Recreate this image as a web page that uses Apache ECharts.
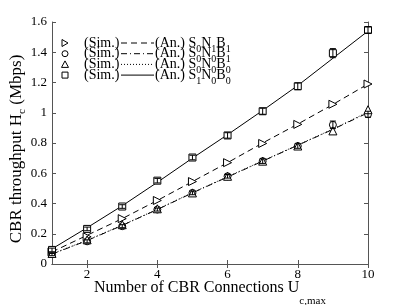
<!DOCTYPE html>
<html><head><meta charset="utf-8">
<script src="https://cdn.jsdelivr.net/npm/echarts@6/dist/echarts.min.js"></script>
<style>html,body{margin:0;padding:0;background:#fff}#c{width:407px;height:305px}</style>
</head><body><div id="c"></div>
<script>
const xValues = [1,2,3,4,5,6,7,8,9,10];
const xTicks = [2,4,6,8,10];
const yTicks = [0,0.2,0.4,0.6,0.8,1,1.2,1.4,1.6];
// simulation
const simS0N1B1 = [0.08,0.18,0.30,0.42,0.545,0.67,0.797,0.923,1.056,1.19];
const simS0N0B1 = [0.065,0.15,0.25,0.36,0.47,0.58,0.68,0.78,0.92,0.99];
const simS0N0B0 = [0.07,0.16,0.26,0.365,0.47,0.58,0.68,0.78,0.88,1.02];
const simS1N0B0 = [0.093,0.232,0.38,0.551,0.704,0.85,1.01,1.175,1.394,1.547];
// error half-widths
const errS1N0B0 = [0.012,0.012,0.012,0.015,0.015,0.018,0.02,0.022,0.03,0.02];
const errS0N0B1 = [0.01,0.01,0.01,0.01,0.012,0.012,0.015,0.015,0.025,0.02];
// analytical
const anS0N1B1 = [0.08,0.19,0.30,0.42,0.545,0.67,0.80,0.925,1.055,1.19];
const anS0N0B1 = [0.065,0.155,0.255,0.36,0.47,0.575,0.68,0.785,0.89,1.0];
const anS0N0B0 = [0.067,0.157,0.257,0.362,0.472,0.577,0.682,0.787,0.892,1.005];
const anS1N0B0 = [0.1,0.24,0.385,0.54,0.70,0.855,1.015,1.18,1.36,1.54];
// legend texts
const simText = '(Sim.)';
const anTexts = ['{n|(An.) S}{s|0}{n|N}{s|1}{n|B}{s|1}','{n|(An.) S}{s|0}{n|N}{s|0}{n|B}{s|1}',
                 '{n|(An.) S}{s|0}{n|N}{s|0}{n|B}{s|0}','{n|(An.) S}{s|1}{n|N}{s|0}{n|B}{s|0}'];

const F = 'Liberation Serif';
const pair = a => xValues.map((x,i)=>[x,a[i]]);
const errData = (a,e) => xValues.map((x,i)=>[x,a[i]-e[i],a[i]+e[i]]);
function errSeries(a,e){
  return {type:'custom', data:errData(a,e), silent:true, z:5,
    renderItem:function(params,api){
      const p1=api.coord([api.value(0),api.value(1)]);
      const p2=api.coord([api.value(0),api.value(2)]);
      const w=3, st={stroke:'#000',lineWidth:1};
      return {type:'group',children:[
        {type:'line',shape:{x1:p1[0],y1:p1[1],x2:p2[0],y2:p2[1]},style:st},
        {type:'line',shape:{x1:p1[0]-w,y1:p1[1],x2:p1[0]+w,y2:p1[1]},style:st},
        {type:'line',shape:{x1:p2[0]-w,y1:p2[1],x2:p2[0]+w,y2:p2[1]},style:st}]};
    }};
}
function sim(name,data,symbol,rot,size){
  return {name,type:'line',data:pair(data),symbol,symbolRotate:rot,symbolSize:size,
    lineStyle:{width:0,opacity:0},itemStyle:{color:'#fff',borderColor:'#000',borderWidth:1},z:4};
}
function an(name,data,type){
  return {name,type:'line',data:pair(data),symbol:'none',
    lineStyle:{color:'#000',width:1,type},itemStyle:{color:'#000'},z:2};
}
// legend graphics
const rowY=[43,53.7,64.4,75.1];
const dashes=[[6,4],[6,3,1,3],[1,2],null];
const st={stroke:'#000',fill:'#fff',lineWidth:1};
const markers=[
  y=>({type:'polygon',shape:{points:[[62,y-3.5],[62,y+3.5],[68,y]]},style:st}),
  y=>({type:'circle',shape:{cx:65,cy:y,r:3},style:st}),
  y=>({type:'polygon',shape:{points:[[61.5,y+3],[68.5,y+3],[65,y-3.5]]},style:st}),
  y=>({type:'rect',shape:{x:62,y:y-3,width:6,height:6},style:st})
];
const graphic=[];
rowY.forEach((y,i)=>{
  graphic.push(markers[i](y));
  graphic.push({type:'text',x:84,y:y,style:{text:simText,fontFamily:F,fontSize:14,fill:'#000',verticalAlign:'middle'}});
  graphic.push({type:'line',shape:{x1:121,y1:y,x2:154,y2:y},style:{stroke:'#000',lineWidth:1,lineDash:dashes[i]}});
  graphic.push({type:'text',x:155,y:y+6,style:{text:anTexts[i],fill:'#000',verticalAlign:'middle',
    rich:{n:{fontFamily:F,fontSize:14,fill:'#000',lineHeight:14,verticalAlign:'top'},
          s:{fontFamily:F,fontSize:10,fill:'#000',lineHeight:26,verticalAlign:'middle'}},
    fontFamily:F,fontSize:14}});
});
const chart=echarts.init(document.getElementById('c'),null,{renderer:'canvas'});
const axisLine={lineStyle:{color:'#555',width:1}};
chart.setOption({
  animation:false,
  graphic,
  grid:{left:52,right:39,top:22,bottom:41,containLabel:false,outerBoundsMode:'none'},
  xAxis:[{type:'value',min:1,max:10,axisLine,
    axisTick:{inside:true,length:4,customValues:xTicks,lineStyle:{color:'#555'}},
    axisLabel:{customValues:xTicks,fontFamily:F,fontSize:13,color:'#000',margin:4},
    splitLine:{show:false},
    name:'{n|Number of CBR Connections U}{s|c,max}',nameLocation:'middle',nameGap:16,nameMoveOverlap:false,
    nameTextStyle:{rich:{n:{fontFamily:F,fontSize:16,color:'#000',verticalAlign:'top',lineHeight:16},
      s:{fontFamily:F,fontSize:11,color:'#000',lineHeight:42}}}},
   {type:'value',min:1,max:10,position:'top',axisLine,
    axisTick:{inside:true,length:4,customValues:xTicks,lineStyle:{color:'#555'}},
    axisLabel:{show:false},splitLine:{show:false}}],
  yAxis:[{type:'value',min:0,max:1.6,interval:0.2,axisLine:{show:true,lineStyle:{color:'#555'}},
    axisTick:{inside:true,length:4,lineStyle:{color:'#555'}},
    axisLabel:{fontFamily:F,fontSize:13,color:'#000',margin:5,formatter:v=>String(+v.toFixed(1))},
    splitLine:{show:false},
    name:'{n|CBR throughput H}{s|c}{n| (Mbps)}',nameLocation:'middle',nameGap:15,nameRotate:90,nameMoveOverlap:false,
    nameTextStyle:{padding:[0,12,0,0],rich:{n:{fontFamily:F,fontSize:17,color:'#000',verticalAlign:'top',lineHeight:17},
      s:{fontFamily:F,fontSize:11,color:'#000',lineHeight:29}}}},
   {type:'value',min:0,max:1.6,interval:0.2,position:'right',axisLine:{show:true,lineStyle:{color:'#555'}},
    axisTick:{inside:true,length:4,lineStyle:{color:'#555'}},axisLabel:{show:false},splitLine:{show:false}}],
  series:[
    an('an1',anS0N1B1,[6,4]),
    an('an2',anS0N0B1,[6,3,1,3]),
    an('an3',anS0N0B0,[1,2]),
    an('an4',anS1N0B0,'solid'),
    errSeries(simS1N0B0,errS1N0B0),
    errSeries(simS0N0B1,errS0N0B1),
    sim('sim1',simS0N1B1,'triangle',-90,8),
    sim('sim2',simS0N0B1,'circle',0,7),
    sim('sim3',simS0N0B0,'triangle',0,8),
    sim('sim4',simS1N0B0,'rect',0,7)
  ]
});
</script></body></html>
